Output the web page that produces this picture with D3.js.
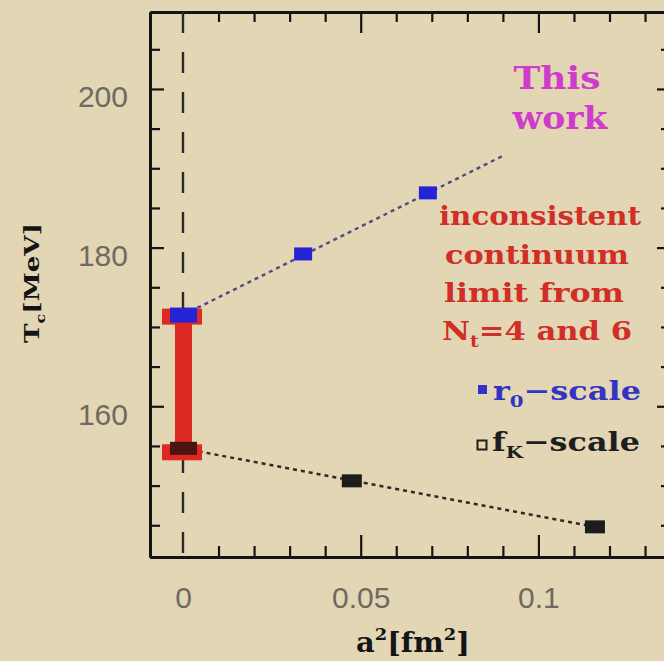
<!DOCTYPE html>
<html>
<head>
<meta charset="utf-8">
<script src="https://cdn.jsdelivr.net/npm/d3@7"></script>
<style>
  html, body { margin: 0; padding: 0; background: #e2d6b4; }
  svg { display: block; }
</style>
</head>
<body>
<script>
// Critical temperature vs. squared lattice spacing, two scale settings
const r0A2 = [0, 0.0338, 0.0689];          // r0-scale: a^2 [fm^2]
const r0Tc = [171.5, 179.2, 186.9];        // r0-scale: Tc [MeV]
const fkA2 = [0, 0.0475, 0.1159];          // fK-scale: a^2 [fm^2]
const fkTc = [154.7, 150.6, 144.8];        // fK-scale: Tc [MeV]
const r0FitA2 = [0, 0.0906];               // linear extrapolation, r0-scale
const r0FitTc = [171.5, 191.7];
const fkFitA2 = [0, 0.1159];               // linear extrapolation, fK-scale
const fkFitTc = [154.7, 144.8];
const contLimitTc = [154.2, 171.3];        // spread of continuum limits at a^2 = 0

const yMajorTicks = [160, 180, 200];
const yMinorTicks = [145, 150, 155, 165, 170, 175, 185, 190, 195, 205];
const xMajorTicks = [0, 0.05, 0.1];
const xMajorLabels = ["0", "0.05", "0.1"];
const xMinorTicks = [0.01, 0.02, 0.03, 0.04, 0.06, 0.07, 0.08, 0.09, 0.11, 0.12, 0.13];

const W = 664, H = 661;
const plot = { left: 150, right: 671, top: 12, bottom: 557 };

const x = d3.scaleLinear().domain([-0.00928, 0.1373]).range([plot.left, plot.right]);
const y = d3.scaleLinear().domain([141, 209.7]).range([plot.bottom, plot.top]);

const svg = d3.select("body").append("svg")
  .attr("width", W).attr("height", H);

svg.append("rect").attr("width", W).attr("height", H).attr("fill", "#e2d6b4");

const axisColor = "#141414";
const serif = "'DejaVu Serif', serif";
const sans = "'Liberation Sans', Arial, sans-serif";

function styleAxis(g) {
  g.select(".domain").attr("stroke", axisColor).attr("stroke-width", 3);
  g.selectAll(".tick line").attr("stroke", axisColor).attr("stroke-width", 2.2);
}

// Bottom axis: minor + major ticks pointing inward, labels below
const bMinor = svg.append("g").attr("transform", `translate(0,${plot.bottom})`)
  .call(d3.axisBottom(x).tickValues(xMinorTicks).tickSize(-11).tickSizeOuter(0).tickFormat(""));
styleAxis(bMinor);
const bMajor = svg.append("g").attr("transform", `translate(0,${plot.bottom})`)
  .call(d3.axisBottom(x).tickValues(xMajorTicks).tickSize(-22).tickSizeOuter(0)
    .tickPadding(30).tickFormat((d, i) => xMajorLabels[i]));
styleAxis(bMajor);
bMajor.selectAll(".tick text")
  .attr("font-family", sans).attr("font-size", 30).attr("fill", "#6e6a60");
bMajor.select(".tick line").attr("stroke", "none"); // x=0 is covered by the dashed guide

// Top axis: ticks hanging down
const tMinor = svg.append("g").attr("transform", `translate(0,${plot.top})`)
  .call(d3.axisTop(x).tickValues(xMinorTicks).tickSize(-10).tickSizeOuter(0).tickFormat(""));
styleAxis(tMinor);
const tMajor = svg.append("g").attr("transform", `translate(0,${plot.top})`)
  .call(d3.axisTop(x).tickValues(xMajorTicks.slice(1)).tickSize(-21).tickSizeOuter(0).tickFormat(""));
styleAxis(tMajor);

// Left axis
const lMinor = svg.append("g").attr("transform", `translate(${plot.left},0)`)
  .call(d3.axisLeft(y).tickValues(yMinorTicks).tickSize(-10).tickSizeOuter(0).tickFormat(""));
styleAxis(lMinor);
const lMajor = svg.append("g").attr("transform", `translate(${plot.left},0)`)
  .call(d3.axisLeft(y).tickValues(yMajorTicks).tickSize(-14).tickSizeOuter(0).tickPadding(22));
styleAxis(lMajor);
lMajor.selectAll(".tick text")
  .attr("font-family", sans).attr("font-size", 30).attr("fill", "#6e6a60")
  .attr("dy", "0.6em");

// Right axis
const rMinor = svg.append("g").attr("transform", `translate(${plot.right},0)`)
  .call(d3.axisRight(y).tickValues(yMinorTicks).tickSize(-10).tickSizeOuter(0).tickFormat(""));
styleAxis(rMinor);
const rMajor = svg.append("g").attr("transform", `translate(${plot.right},0)`)
  .call(d3.axisRight(y).tickValues(yMajorTicks).tickSize(-14).tickSizeOuter(0).tickFormat(""));
styleAxis(rMajor);

// Dashed guide at a^2 = 0
svg.append("line")
  .attr("x1", x(0)).attr("x2", x(0))
  .attr("y1", plot.top).attr("y2", plot.bottom)
  .attr("stroke", "#2a2a2a").attr("stroke-width", 2.4)
  .attr("stroke-dasharray", "21 19");

// Dotted linear extrapolations
const line = d3.line().x(d => x(d[0])).y(d => y(d[1]));
svg.append("path")
  .attr("d", line(d3.zip(r0FitA2, r0FitTc)))
  .attr("fill", "none").attr("stroke", "#4b4b86").attr("stroke-width", 2.4)
  .attr("stroke-dasharray", "4 4");
svg.append("path")
  .attr("d", line(d3.zip(fkFitA2, fkFitTc)))
  .attr("fill", "none").attr("stroke", "#2e2a26").attr("stroke-width", 2.4)
  .attr("stroke-dasharray", "4 4");

// Red band between the two continuum limits
const red = "#dc2a22";
svg.append("rect")
  .attr("x", x(0) - 8).attr("width", 17)
  .attr("y", y(contLimitTc[1])).attr("height", y(contLimitTc[0]) - y(contLimitTc[1]))
  .attr("fill", red);
svg.selectAll("rect.cap").data(contLimitTc).join("rect")
  .attr("class", "cap")
  .attr("x", x(0) - 21).attr("width", 40)
  .attr("y", d => y(d) - 8).attr("height", 16)
  .attr("fill", red);

// r0-scale points
svg.selectAll("rect.r0").data(d3.zip(r0A2, r0Tc)).join("rect")
  .attr("class", "r0")
  .attr("x", (d, i) => x(d[0]) - (i === 0 ? 13 : 9))
  .attr("width", (d, i) => i === 0 ? 27 : 18)
  .attr("y", (d, i) => y(d[1]) - (i === 0 ? 7.5 : 6.5))
  .attr("height", (d, i) => i === 0 ? 15 : 13)
  .attr("fill", "#2424d6");

// fK-scale points
svg.selectAll("rect.fk").data(d3.zip(fkA2, fkTc)).join("rect")
  .attr("class", "fk")
  .attr("x", (d, i) => x(d[0]) - (i === 0 ? 13 : 10))
  .attr("width", (d, i) => i === 0 ? 27 : 20)
  .attr("y", (d, i) => y(d[1]) - 6.5)
  .attr("height", 13)
  .attr("fill", (d, i) => i === 0 ? "#4a1410" : "#1c1c1c");

// Annotations
function label(xc, yb, width, size, color, parts, anchor) {
  const t = svg.append("text")
    .attr("x", xc).attr("y", yb)
    .attr("font-family", serif).attr("font-weight", "bold")
    .attr("font-size", size).attr("fill", color)
    .attr("text-anchor", anchor || "middle");
  parts.forEach(p => {
    const s = t.append("tspan").text(p.t);
    if (p.sub) s.attr("font-size", size * 0.62).attr("dy", size * 0.28);
    if (p.sup) s.attr("font-size", size * 0.62).attr("dy", -size * 0.42);
    if (p.back) s.attr("dy", p.back * size);
  });
  if (width) t.attr("textLength", width).attr("lengthAdjust", "spacingAndGlyphs");
  return t;
}

const magenta = "#cf3ccb";
label(557, 89, 87, 31, magenta, [{ t: "This" }]);
label(560, 129, 95, 31, magenta, [{ t: "work" }]);

const redText = "#d02e26";
label(540, 225, 202, 26, redText, [{ t: "inconsistent" }]);
label(537, 264, 184, 26, redText, [{ t: "continuum" }]);
label(534, 302, 180, 26, redText, [{ t: "limit from" }]);
const nt = label(537, 340, 190, 26, redText, [
  { t: "N" }, { t: "t", sub: true }, { t: "=4 and 6", back: -0.28 }
]);

// Legend
svg.append("rect").attr("x", 478).attr("y", 385).attr("width", 9).attr("height", 9).attr("fill", "#3232c8");
label(493, 400, 148, 26, "#3434c4", [
  { t: "r" }, { t: "0", sub: true }, { t: "\u2212scale", back: -0.28 }
], "start");
svg.append("rect").attr("x", 477.5).attr("y", 440.5).attr("width", 9).attr("height", 9)
  .attr("fill", "none").attr("stroke", "#1e1e1e").attr("stroke-width", 2);
label(492, 451, 148, 26, "#1e1e1e", [
  { t: "f" }, { t: "K", sub: true }, { t: "\u2212scale", back: -0.28 }
], "start");

// Axis titles
label(413, 652, 114, 28, "#141414", [
  { t: "a" }, { t: "2", sup: true }, { t: "[fm", back: 0.42 }, { t: "2", sup: true }, { t: "]", back: 0.42 }
]);

const yTitle = svg.append("g").attr("transform", "translate(39,283) rotate(-90)");
const yt = yTitle.append("text")
  .attr("x", 0).attr("y", 0).attr("text-anchor", "middle")
  .attr("font-family", serif).attr("font-weight", "bold").attr("font-size", 21)
  .attr("fill", "#141414")
  .attr("textLength", 120).attr("lengthAdjust", "spacingAndGlyphs");
yt.append("tspan").text("T");
yt.append("tspan").text("c").attr("font-size", 13).attr("dy", 6);
yt.append("tspan").text("[MeV]").attr("dy", -6);
</script>
</body>
</html>
